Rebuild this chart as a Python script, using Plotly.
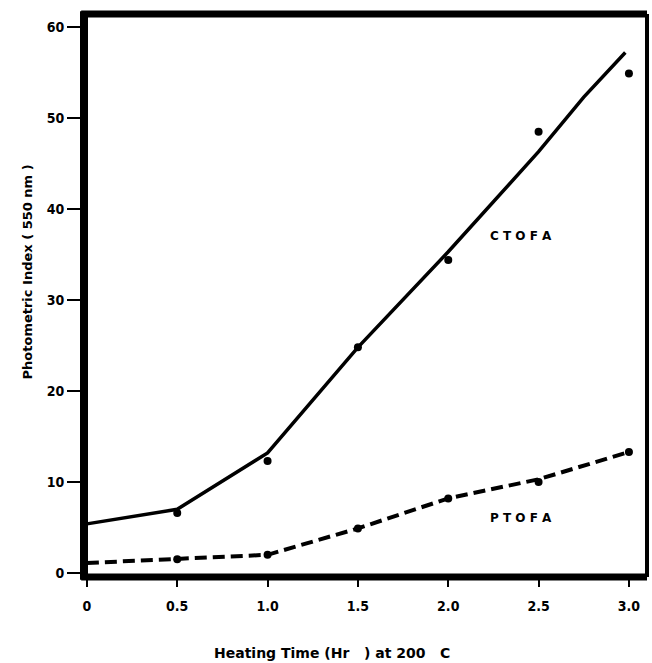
import plotly.graph_objects as go

# Measured points: heating time (hr) vs photometric index at 550 nm
hours = [0.5, 1.0, 1.5, 2.0, 2.5, 3.0]
ctofa_points = [6.6, 12.3, 24.8, 34.4, 48.5, 54.9]
ptofa_hours = [0.5, 1.0, 1.5, 2.0, 2.5, 3.0]
ptofa_points = [1.5, 2.0, 4.9, 8.2, 10.0, 13.3]

# Hand-drawn trend curves through the data
ctofa_curve_x = [0.0, 0.5, 1.0, 1.5, 2.0, 2.5, 2.75, 2.98]
ctofa_curve_y = [5.4, 7.0, 13.2, 24.8, 35.3, 46.3, 52.3, 57.2]
ptofa_curve_x = [0.0, 0.5, 1.0, 1.5, 2.0, 2.5, 3.0]
ptofa_curve_y = [1.1, 1.5, 2.0, 4.9, 8.2, 10.3, 13.3]

x_ticks = [0, 0.5, 1.0, 1.5, 2.0, 2.5, 3.0]
x_tick_text = ["0", "0.5", "1.0", "1.5", "2.0", "2.5", "3.0"]
y_ticks = [0, 10, 20, 30, 40, 50, 60]
y_tick_text = ["0", "10", "20", "30", "40", "50", "60"]

TICK_FONT = dict(family="Liberation Sans Narrow, DejaVu Sans Condensed, Arial Narrow, sans-serif",
                 size=14, color="black")
TITLE_FAMILY = "DejaVu Sans, Noto Sans, sans-serif"

fig = go.Figure()

fig.add_trace(go.Scatter(x=ctofa_curve_x, y=ctofa_curve_y, mode="lines",
                         line=dict(color="black", width=3.5), showlegend=False,
                         hoverinfo="skip"))
fig.add_trace(go.Scatter(x=ptofa_curve_x, y=ptofa_curve_y, mode="lines",
                         line=dict(color="black", width=4, dash="12px,6px"),
                         showlegend=False, hoverinfo="skip"))
fig.add_trace(go.Scatter(x=hours, y=ctofa_points, mode="markers", name="CTOFA",
                         marker=dict(color="black", size=8), showlegend=False))
fig.add_trace(go.Scatter(x=ptofa_hours, y=ptofa_points, mode="markers", name="PTOFA",
                         marker=dict(color="black", size=8), showlegend=False))

# Heavy frame around the plotting area
frame = [
    dict(x0=0, x1=0, y0=-0.005, y1=1.005, w=8),   # left
    dict(x0=-0.005, x1=1.0, y0=0, y1=0, w=7),     # bottom
    dict(x0=-0.005, x1=1.0, y0=1, y1=1, w=7),     # top
    dict(x0=1, x1=1, y0=0, y1=1, w=4),            # right
]
for f in frame:
    fig.add_shape(type="line", xref="paper", yref="paper",
                  x0=f["x0"], x1=f["x1"], y0=f["y0"], y1=f["y1"],
                  line=dict(color="black", width=f["w"]), layer="above")

fig.add_annotation(x=2.405, y=37.0, xref="x", yref="y", text="<b>C T O F A</b>",
                   showarrow=False, font=dict(family=TITLE_FAMILY, size=12, color="black"))
fig.add_annotation(x=2.405, y=6.0, xref="x", yref="y", text="<b>P T O F A</b>",
                   showarrow=False, font=dict(family=TITLE_FAMILY, size=12, color="black"))

fig.add_annotation(x=-0.117, y=0.542, xref="paper", yref="paper",
                   text="<b>Photometric Index ( 550 nm )</b>", textangle=-90,
                   showarrow=False, font=dict(family=TITLE_FAMILY, size=13, color="#000000"))
fig.add_annotation(x=0.441, y=-0.152, xref="paper", yref="paper",
                   text="<b>Heating Time (Hr   ) at 200   C</b>",
                   showarrow=False, font=dict(family=TITLE_FAMILY, size=14, color="black"))

fig.update_xaxes(range=[-0.016, 3.1], tickvals=x_ticks,
                 ticktext=["<b>%s</b>" % t for t in x_tick_text],
                 ticks="outside", ticklen=9, tickwidth=1.5, tickcolor="black",
                 ticklabelstandoff=7, tickfont=TICK_FONT,
                 showgrid=False, zeroline=False, showline=False)
fig.update_yaxes(range=[-0.44, 61.43], tickvals=y_ticks,
                 ticktext=["<b>%s</b>" % t for t in y_tick_text],
                 ticks="outside", ticklen=16, tickwidth=1.5, tickcolor="black",
                 tickfont=TICK_FONT,
                 showgrid=False, zeroline=False, showline=False)

fig.update_layout(width=652, height=663,
                  margin=dict(l=84, r=5, t=14, b=86),
                  plot_bgcolor="white", paper_bgcolor="white")

fig.write_html("out.html")
